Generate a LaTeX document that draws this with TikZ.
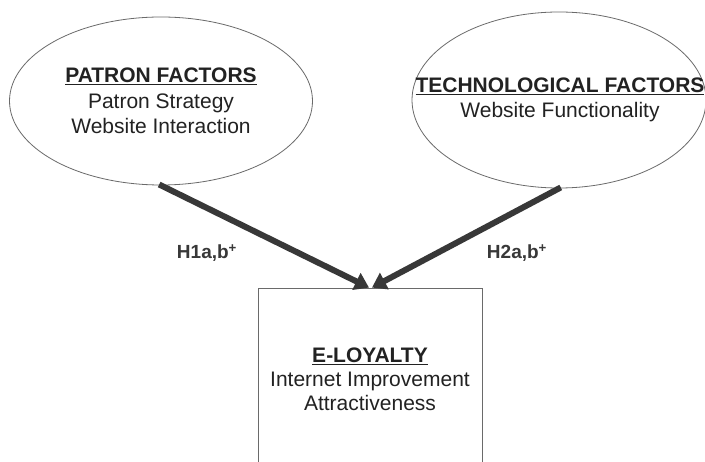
\documentclass[tikz,border=0pt]{standalone}
\usepackage{fontspec}
\setmainfont{Liberation Sans}
\usetikzlibrary{shapes.geometric,arrows.meta}
\definecolor{ink}{HTML}{222222}
\definecolor{arr}{HTML}{383838}
\definecolor{edge}{HTML}{6A6A6A}
\tikzset{
  factor/.style={ellipse,draw=edge,line width=0.8pt,inner sep=0pt},
  label/.style={align=center,text=ink,font=\fontsize{21}{25.5}\selectfont},
  loyalbox/.style={rectangle,draw=edge,line width=0.8pt,inner sep=0pt},
  hyp/.style={font=\bfseries\fontsize{19}{22}\selectfont,text=arr},
  link/.style={draw=arr,line width=6pt,-{Triangle[length=14pt,width=18pt]},shorten <=-2pt}
}
\begin{document}
\begin{tikzpicture}[x=1pt,y=-1pt]
\useasboundingbox (0,0) rectangle (705,462);
\clip (0,0) rectangle (705,462);
\fill[white] (0,0) rectangle (705,462);
\node[factor,minimum width=303pt,minimum height=168pt] (patron) at (161,101) {};
\node[factor,minimum width=294pt,minimum height=176pt] (tech) at (559,100) {};
\node[loyalbox,minimum width=224pt,minimum height=182pt] (loyal) at (370,379) {};
\node[label] (patrontext) at (161,101)
  {\textbf{\underline{PATRON FACTORS}}\\Patron Strategy\\Website Interaction};
\node[label] (techtext) at (560,100)
  {\textbf{\underline{TECHNOLOGICAL FACTORS}}\\Website Functionality};
\node[label,font=\fontsize{21}{24}\selectfont] (loyaltext) at (370,379)
  {\textbf{\underline{E-LOYALTY}}\\Internet Improvement\\Attractiveness};
\coordinate (tipL) at ([xshift=-1pt]loyal.north);
\coordinate (tipR) at ([xshift=2pt]loyal.north);
\draw[link] (patron.south) -- (tipL);
\draw[link] (tech.south) -- (tipR);
\node[hyp] (h1) at (207,253) {H1a,b\textsuperscript{+}};
\node[hyp] (h2) at (517,253) {H2a,b\textsuperscript{+}};
\end{tikzpicture}
\end{document}
